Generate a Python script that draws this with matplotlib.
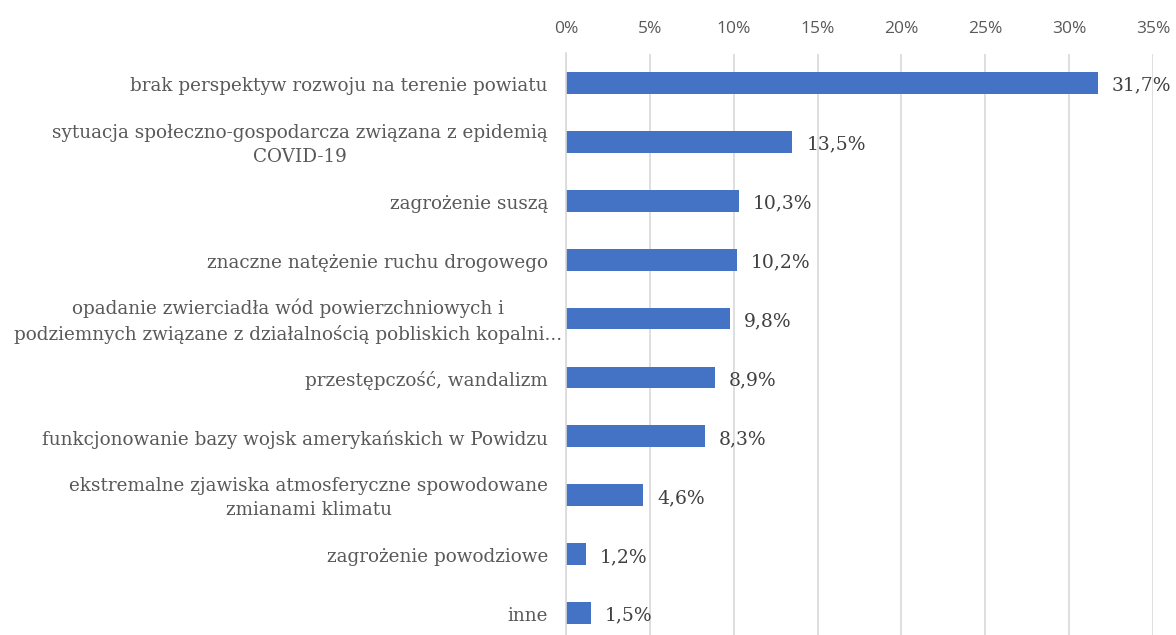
import matplotlib

matplotlib.use("Agg")
import matplotlib.pyplot as plt
from matplotlib.ticker import FuncFormatter
from matplotlib.transforms import ScaledTranslation

categories = [
    "brak perspektyw rozwoju na terenie powiatu",
    "sytuacja społeczno-gospodarcza związana z epidemią\nCOVID-19",
    "zagrożenie suszą",
    "znaczne natężenie ruchu drogowego",
    "opadanie zwierciadła wód powierzchniowych i\npodziemnych związane z działalnością pobliskich kopalni...",
    "przestępczość, wandalizm",
    "funkcjonowanie bazy wojsk amerykańskich w Powidzu",
    "ekstremalne zjawiska atmosferyczne spowodowane\nzmianami klimatu",
    "zagrożenie powodziowe",
    "inne",
]
values = [31.7, 13.5, 10.3, 10.2, 9.8, 8.9, 8.3, 4.6, 1.2, 1.5]

BAR_COLOR = "#4472C4"
GRID_COLOR = "#d9d9d9"
TEXT_COLOR = "#595959"
LABEL_COLOR = "#404040"

fig = plt.figure(figsize=(11.76, 6.35), dpi=100)
ax = fig.add_axes([566 / 1176, 1 - 642.5 / 635, 587 / 1176, 589 / 635])

pos = list(range(len(values)))
ax.barh(pos, values, height=0.37, color=BAR_COLOR, zorder=2)

ax.set_xlim(0, 35)
ax.set_ylim(len(values) - 0.5, -0.5)
ax.set_xticks(range(0, 36, 5))
ax.xaxis.set_major_formatter(FuncFormatter(lambda x, _: f"{x:.0f}%"))
ax.xaxis.tick_top()
ax.tick_params(axis="x", length=0, pad=12, labelsize=12.5, labelcolor=TEXT_COLOR)
for t in ax.get_xticklabels():
    t.set_fontfamily("Open Sans")

# category labels drawn as text so the long one can overhang the axis a bit
ax.set_yticks(pos)
ax.set_yticklabels([])
ax.tick_params(axis="y", length=0)
for p, name in zip(pos, categories):
    shift = 14 if "kopalni" in name else 0
    tr = ax.get_yaxis_transform() + ScaledTranslation(
        (shift - 18) / 100, -3 / 100, fig.dpi_scale_trans
    )
    ax.text(
        0, p, name,
        transform=tr,
        ha="right",
        va="center",
        multialignment="center",
        linespacing=1.45,
        fontsize=13.2,
        family="DejaVu Serif",
        color=TEXT_COLOR,
    )

ax.grid(axis="x", color=GRID_COLOR, linewidth=1.2, zorder=0)
for side in ["top", "right", "bottom"]:
    ax.spines[side].set_visible(False)
ax.spines["left"].set_color(GRID_COLOR)
ax.spines["left"].set_linewidth(1.2)

# value labels next to each bar
for p, v in zip(pos, values):
    ax.annotate(
        f"{v:.1f}".replace(".", ",") + "%",
        xy=(v, p),
        xytext=(10, -2),
        textcoords="offset points",
        va="center",
        ha="left",
        fontsize=13.5,
        family="DejaVu Serif",
        color=LABEL_COLOR,
    )

fig.savefig("out.png", dpi=100)
